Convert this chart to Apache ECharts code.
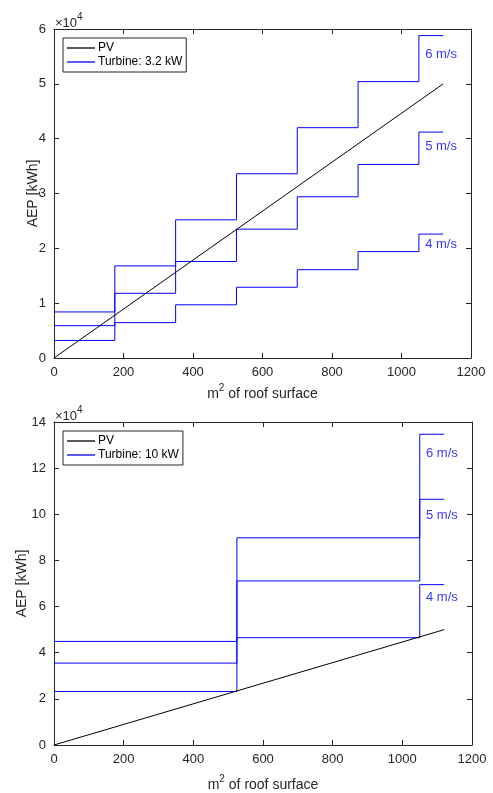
<!DOCTYPE html>
<html><head><meta charset="utf-8">
<script src="https://cdn.jsdelivr.net/npm/echarts@6/dist/echarts.min.js"></script>
<style>html,body{margin:0;padding:0;background:#fff}#c{width:493px;height:793px}</style>
</head><body><div id="c"></div>
<script>
// Top panel (Turbine: 3.2 kW)
const stepX1 = [0, 175, 350, 525, 700, 875, 1050, 1120];
const top6 = [8400, 16800, 25200, 33600, 42000, 50400, 58800, 58800];
const top5 = [5900, 11800, 17600, 23500, 29400, 35300, 41200, 41200];
const top4 = [3200, 6450, 9700, 12900, 16100, 19400, 22600, 22600];
// Bottom panel (Turbine: 10 kW)
const stepX2 = [0, 525, 1050, 1120];
const bot6 = [44900, 89800, 134700, 134700];
const bot5 = [35500, 71100, 106500, 106500];
const bot4 = [23200, 46500, 69500, 69500];
// PV line
const pvX = [0, 1120];
const pvY = [0, 50000];
const labelsWind = ['6 m/s', '5 m/s', '4 m/s'];
const topLabelY = [55300, 38500, 20800];
const botLabelY = [126500, 99700, 63800];
const labelX = 1068;

const AX = '#262626';
const FONT = 'Liberation Sans, Arial, Helvetica, sans-serif';
const zip = (xs, ys) => xs.map((x, i) => [x, ys[i]]);

function xAxes(gi, gap) {
  return [
    {gridIndex: gi, type: 'value', min: 0, max: 1200, interval: 200, position: 'bottom',
     axisLine: {show: true, onZero: false, lineStyle: {color: AX, width: 1}},
     axisTick: {show: true, inside: true, length: 5, lineStyle: {color: AX}},
     axisLabel: {color: AX, fontSize: 13, fontFamily: FONT, margin: 8, formatter: v => String(v)},
     splitLine: {show: false},
     name: '{a|m}{s|2}{a| of roof surface}', nameLocation: 'middle', nameGap: gap, nameMoveOverlap: false,
     nameTextStyle: {rich: {a: {fontSize: 14, fontFamily: FONT, color: AX, lineHeight: 18, verticalAlign: 'bottom'},
                            s: {fontSize: 10, fontFamily: FONT, color: AX, lineHeight: 18, verticalAlign: 'top'}}}},
    {gridIndex: gi, type: 'value', min: 0, max: 1200, interval: 200, position: 'top',
     axisLine: {show: true, onZero: false, lineStyle: {color: AX, width: 1}},
     axisTick: {show: true, inside: true, length: 5, lineStyle: {color: AX}},
     axisLabel: {show: false}, splitLine: {show: false}}
  ];
}
function yAxes(gi, max, interval, gap) {
  return [
    {gridIndex: gi, type: 'value', min: 0, max: max, interval: interval, position: 'left',
     axisLine: {show: true, onZero: false, lineStyle: {color: AX, width: 1}},
     axisTick: {show: true, inside: true, length: 5, lineStyle: {color: AX}},
     axisLabel: {color: AX, fontSize: 13, fontFamily: FONT, margin: 8, formatter: v => String(v / 10000)},
     splitLine: {show: false},
     name: 'AEP [kWh]', nameLocation: 'middle', nameGap: gap, nameRotate: 90, nameMoveOverlap: false,
     nameTextStyle: {color: AX, fontSize: 14, fontFamily: FONT}},
    {gridIndex: gi, type: 'value', min: 0, max: max, interval: interval, position: 'right',
     axisLine: {show: true, onZero: false, lineStyle: {color: AX, width: 1}},
     axisTick: {show: true, inside: true, length: 5, lineStyle: {color: AX}},
     axisLabel: {show: false}, splitLine: {show: false}}
  ];
}
function stair(name, xi, yi, xs, ys) {
  return {type: 'line', name: name, xAxisIndex: xi, yAxisIndex: yi, data: zip(xs, ys), step: 'end',
          symbol: 'none', silent: true, lineStyle: {color: '#0000ff', width: 1}, itemStyle: {color: '#0000ff'}, z: 2};
}
function pv(xi, yi) {
  return {type: 'line', name: 'PV', xAxisIndex: xi, yAxisIndex: yi, data: zip(pvX, pvY), symbol: 'none', silent: true,
          lineStyle: {color: '#000000', width: 1}, itemStyle: {color: '#000000'}, z: 3};
}
function labels(xi, yi, ys) {
  return {type: 'scatter', xAxisIndex: xi, yAxisIndex: yi, symbolSize: 0, silent: true,
          data: ys.map((y, i) => ({value: [labelX, y], label: {show: true, formatter: labelsWind[i], position: 'right', distance: 0,
            color: '#0000ff', fontSize: 13, fontFamily: FONT}})), z: 4};
}
const T1 = 'Turbine: 3.2 kW', T2 = 'Turbine: 10 kW';
function legend(top, data) {
  return {top: top, left: 63, orient: 'vertical', data: data, icon: 'rect', itemWidth: 28, itemHeight: 1.3,
          itemGap: 0, padding: [3, 4, 3, 4], borderColor: AX, borderWidth: 1, backgroundColor: '#fff',
          textStyle: {color: '#000', fontSize: 12, fontFamily: FONT, lineHeight: 14, padding: [0, 0, 0, -2]}, selectedMode: false};
}
const supStyle = () => ({text: '{a|×10}{s|4}', rich: {a: {fontSize: 13, fontFamily: FONT, fill: AX, lineHeight: 18, verticalAlign: 'bottom'}, s: {fontSize: 10, fontFamily: FONT, fill: AX, lineHeight: 18, verticalAlign: 'top'}}});
const option = {
  animation: false,
  grid: [
    {left: 54, right: 22, top: 29, height: 329},
    {left: 54, right: 21, top: 422, height: 330}
  ],
  xAxis: [...xAxes(0, 25), ...xAxes(1, 29)],
  yAxis: [...yAxes(0, 60000, 10000, 14), ...yAxes(1, 140000, 20000, 25)],
  legend: [
    legend(38, [{name: 'PV', itemStyle: {color: '#000'}}, {name: T1, itemStyle: {color: '#0000ff'}}]),
    legend(431, [{name: 'PV', itemStyle: {color: '#000'}}, {name: T2, itemStyle: {color: '#0000ff'}}])
  ],
  graphic: [
    {type: 'text', left: 55, top: 12, style: supStyle()},
    {type: 'text', left: 55, top: 405, style: supStyle()}
  ],
  series: [
    pv(0, 0),
    stair(T1, 0, 0, stepX1, top6),
    stair(T1, 0, 0, stepX1, top5),
    stair(T1, 0, 0, stepX1, top4),
    labels(0, 0, topLabelY),
    pv(2, 2),
    stair(T2, 2, 2, stepX2, bot6),
    stair(T2, 2, 2, stepX2, bot5),
    stair(T2, 2, 2, stepX2, bot4),
    labels(2, 2, botLabelY)
  ]
};
const chart = echarts.init(document.getElementById('c'), null, {renderer: 'canvas'});
chart.setOption(option);
</script></body></html>
